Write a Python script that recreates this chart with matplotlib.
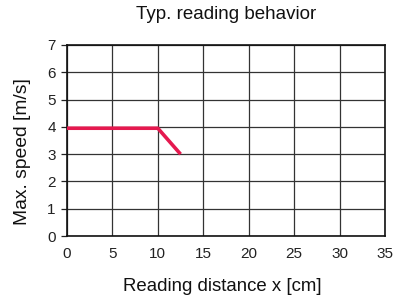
import matplotlib
matplotlib.use("Agg")
import matplotlib.pyplot as plt

plt.rcParams['font.family'] = ['Liberation Sans', 'DejaVu Sans']

distance = [0, 10, 12.5]
speed = [3.95, 3.95, 3.0]
x_ticks = [0, 5, 10, 15, 20, 25, 30, 35]
y_ticks = [0, 1, 2, 3, 4, 5, 6, 7]

fig = plt.figure(figsize=(3.94, 2.98), dpi=100)
ax = fig.add_axes([0.170, 0.208, 0.807, 0.641])

ax.plot(distance, speed, color='#e5194f', linewidth=2.6, solid_capstyle='butt', zorder=3)

ax.set_xlim(0, 35)
ax.set_ylim(0, 7)
ax.set_xticks(x_ticks)
ax.set_yticks(y_ticks)
ax.grid(True, color='#333333', linewidth=0.9)
ax.set_axisbelow(True)
for s in ax.spines.values():
    s.set_linewidth(1.2)
    s.set_color('#111111')
ax.tick_params(axis='x', length=0, pad=8, labelsize=11, colors='#222222')
ax.tick_params(axis='y', length=4, width=0.9, pad=4, labelsize=11, colors='#222222')

ax.set_title('Typ. reading behavior', fontsize=13.5, y=1.136, pad=0, color='#111111')
ax.set_xlabel('Reading distance x [cm]', fontsize=13.4, va='center', color='#111111')
ax.xaxis.set_label_coords(0.488, -0.262)
ax.set_ylabel('Max. speed [m/s]', fontsize=13.9, va='center', color='#111111')
ax.yaxis.set_label_coords(-0.141, 0.44)

fig.savefig('out.png', dpi=100)
